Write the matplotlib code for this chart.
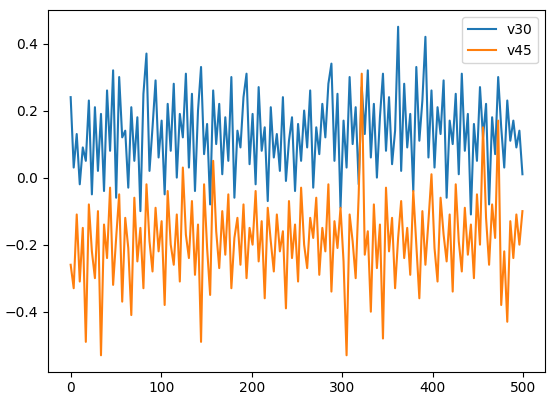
import numpy as np
import matplotlib
matplotlib.use("Agg")
import matplotlib.pyplot as plt

# values, evenly spaced over x = 0..499
v30 = [
    0.24, 0.03, 0.13, -0.02, 0.09, 0.05, 0.23, -0.05, 0.21, 0.02,
    0.19, -0.04, 0.26, 0.08, 0.32, -0.06, 0.30, 0.12, 0.14, -0.03,
    0.21, 0.05, 0.18, -0.10, 0.25, 0.37, 0.02, 0.15, 0.29, 0.06,
    0.17, -0.05, 0.22, 0.08, 0.28, 0.00, 0.19, 0.12, 0.31, 0.03,
    0.25, -0.04, 0.20, 0.33, 0.07, 0.16, -0.08, 0.26, 0.10, 0.22,
    0.01, 0.18, 0.05, 0.30, -0.06, 0.14, 0.09, 0.24, 0.31, 0.04,
    0.19, -0.02, 0.27, 0.08, 0.15, -0.07, 0.21, 0.06, 0.13, 0.02,
    0.24, -0.01, 0.11, 0.18, -0.04, 0.16, 0.05, 0.20, 0.09, 0.26,
    -0.03, 0.15, 0.07, 0.22, 0.12, 0.28, 0.34, 0.05, 0.25, -0.09,
    0.17, 0.03, 0.30, 0.10, 0.21, -0.02, 0.27, 0.13, 0.32, 0.06,
    0.22, 0.00, 0.18, 0.31, 0.08, 0.24, 0.04, 0.14, 0.45, 0.02,
    0.28, 0.09, 0.19, -0.04, 0.33, 0.11, 0.23, 0.42, 0.06, 0.26,
    0.03, 0.21, 0.13, 0.29, -0.06, 0.17, 0.10, 0.25, 0.01, 0.31,
    0.08, 0.19, -0.11, 0.16, 0.05, 0.27, 0.12, 0.22, -0.08, 0.18,
    0.07, 0.30, 0.15, 0.03, 0.23, 0.11, 0.17, 0.09, 0.14, 0.01,
]
v45 = [
    -0.26, -0.33, -0.11, -0.31, -0.15, -0.49, -0.08, -0.22, -0.30, -0.10,
    -0.53, -0.14, -0.24, -0.03, -0.32, -0.18, -0.05, -0.37, -0.12, -0.21,
    -0.41, -0.06, -0.25, -0.15, -0.33, -0.02, -0.19, -0.28, -0.09, -0.22,
    -0.13, -0.38, -0.04, -0.20, -0.26, -0.11, -0.31, 0.03, -0.17, -0.24,
    -0.07, -0.29, -0.14, -0.49, -0.02, -0.21, -0.35, 0.05, -0.16, -0.27,
    -0.10, -0.23, -0.05, -0.33, -0.18, -0.12, -0.26, -0.08, -0.30, -0.15,
    -0.20, -0.04, -0.25, -0.13, -0.36, -0.09, -0.19, -0.28, -0.11, -0.22,
    -0.16, -0.39, -0.07, -0.24, -0.14, -0.31, -0.03, -0.20, -0.27, -0.12,
    -0.18, -0.06, -0.29, -0.15, -0.22, -0.02, -0.34, -0.13, -0.21, -0.09,
    -0.25, -0.53, -0.11, -0.19, -0.30, -0.05, 0.31, -0.23, -0.16, -0.40,
    -0.08, -0.27, -0.14, -0.48, -0.03, -0.22, -0.12, -0.33, -0.18, -0.07,
    -0.24, -0.15, -0.29, -0.04, -0.20, -0.36, -0.10, -0.26, -0.13, 0.01,
    -0.21, -0.31, -0.06, -0.17, -0.25, -0.11, -0.34, -0.02, -0.19, -0.28,
    -0.09, -0.23, -0.14, -0.30, -0.05, -0.20, 0.15, -0.12, -0.26, -0.08,
    -0.18, 0.17, -0.38, -0.22, -0.43, -0.13, -0.24, -0.11, -0.20, -0.10,
]

fig, ax = plt.subplots(figsize=(5.59, 4.13), dpi=100)
fig.subplots_adjust(left=0.086, right=0.975, top=0.975, bottom=0.1)

x30 = np.linspace(0, 499, len(v30))
x45 = np.linspace(0, 499, len(v45))
ax.plot(x30, v30, label="v30")
ax.plot(x45, v45, label="v45")
ax.legend(loc="upper right")

fig.savefig("out.png", dpi=100)
